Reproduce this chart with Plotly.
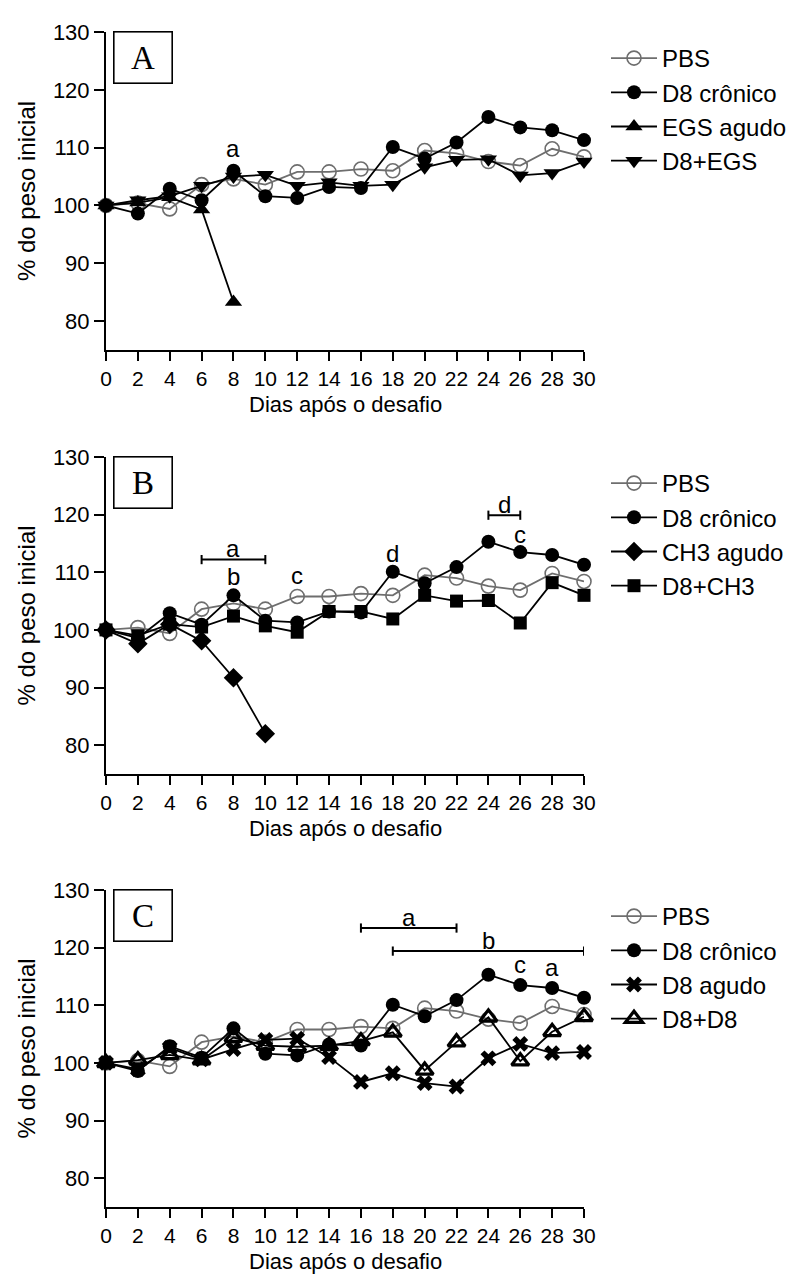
import plotly.graph_objects as go

W, H = 797, 1274
SANS = "Liberation Sans, Arial, sans-serif"
SERIF = "Liberation Serif, Times New Roman, serif"

# ---------------- data ----------------
days = [0, 2, 4, 6, 8, 10, 12, 14, 16, 18, 20, 22, 24, 26, 28, 30]
x_ticks = days
y_ticks = [80, 90, 100, 110, 120, 130]

pbs = [100, 100.4, 99.4, 103.6, 104.6, 103.6, 105.8, 105.8, 106.3, 106.0,
       109.5, 109.0, 107.6, 106.9, 109.8, 108.4]
d8_cronico = [100, 98.6, 102.9, 100.9, 106.0, 101.6, 101.3, 103.2, 103.0, 110.1,
              108.1, 110.9, 115.3, 113.5, 113.0, 111.3]
egs_agudo_days = [0, 2, 4, 6, 8]
egs_agudo = [100, 100.5, 101.4, 99.3, 83.3]
d8_egs = [100, 100.9, 101.6, 103.4, 105.0, 105.3, 103.4, 104.0, 103.4, 103.6,
          106.6, 107.9, 108.0, 105.2, 105.6, 107.6]
ch3_agudo_days = [0, 2, 4, 6, 8, 10]
ch3_agudo = [100, 97.6, 101.0, 98.1, 91.7, 82.0]
d8_ch3 = [100, 99.0, 101.0, 100.5, 102.4, 100.7, 99.6, 103.2, 103.2, 101.9,
          106.0, 105.0, 105.1, 101.2, 108.2, 106.0]
d8_agudo = [100, 98.9, 102.6, 100.6, 102.4, 104.0, 104.2, 101.0, 96.7, 98.2,
            96.5, 95.9, 100.8, 103.3, 101.7, 101.9]
d8_d8 = [100, 100.5, 101.4, 100.5, 104.4, 103.0, 102.8, 103.0, 103.8, 105.3,
         98.7, 103.6, 107.9, 100.3, 105.4, 108.0]

panel_labels = ["A", "B", "C"]
x_title = "Dias após o desafio"
y_title = "% do peso inicial"

# significance letters: (panel, day, value, text)
letters = [
    (0, 8, 109.9, "a"),
    (1, 8, 109.3, "b"), (1, 12, 109.4, "c"), (1, 18, 113.3, "d"), (1, 26, 116.6, "c"),
    (2, 26, 117.0, "c"), (2, 28, 116.6, "a"),
]
# brackets: (panel, day_start, day_end, value, text)
brackets = [
    (1, 6, 10, 112.2, "a"),
    (1, 24, 26, 119.9, "d"),
    (2, 16, 22, 123.4, "a"),
    (2, 18, 30, 119.4, "b"),
]

# ---------------- styles ----------------
BLACK = "black"
GRAY = "#6e6e6e"
styles = {
    "PBS": dict(symbol="circle-open", color=GRAY, size=14, mlw=1.6, lc=GRAY),
    "D8 crônico": dict(symbol="circle", color=BLACK, size=14, mlw=0, lc=BLACK),
    "EGS agudo": dict(symbol="triangle-up", color=BLACK, size=15, mlw=0, lc=BLACK),
    "D8+EGS": dict(symbol="triangle-down", color=BLACK, size=15, mlw=0, lc=BLACK),
    "CH3 agudo": dict(symbol="diamond", color=BLACK, size=15, mlw=0, lc=BLACK),
    "D8+CH3": dict(symbol="square", color=BLACK, size=13, mlw=0, lc=BLACK),
    "D8 agudo": dict(symbol="x", color=BLACK, size=14, mlw=0, lc=BLACK),
    "D8+D8": dict(symbol="triangle-up-open", color=BLACK, size=15, mlw=3.2, lc=BLACK),
}

panels = [
    [("PBS", days, pbs), ("D8 crônico", days, d8_cronico),
     ("EGS agudo", egs_agudo_days, egs_agudo), ("D8+EGS", days, d8_egs)],
    [("PBS", days, pbs), ("D8 crônico", days, d8_cronico),
     ("CH3 agudo", ch3_agudo_days, ch3_agudo), ("D8+CH3", days, d8_ch3)],
    [("PBS", days, pbs), ("D8 crônico", days, d8_cronico),
     ("D8 agudo", days, d8_agudo), ("D8+D8", days, d8_d8)],
]

# pixel geometry (top, bottom) of each plot area
X_LEFT, X_RIGHT = 98, 576
panel_px = [(24, 342), (449, 766), (882, 1199)]
legend_top_px = [28, 453, 886]


def fx(px):
    return px / W


def fy(px):
    return 1 - px / H


fig = go.Figure()
layout = dict(
    width=W, height=H,
    margin=dict(l=0, r=0, t=0, b=0),
    plot_bgcolor="white", paper_bgcolor="white",
    font=dict(family=SANS, color="black", size=22),
    showlegend=True,
    annotations=[], shapes=[],
)

for i, series in enumerate(panels):
    sfx = "" if i == 0 else str(i + 1)
    xa, ya = "x" + sfx, "y" + sfx
    leg = "legend" if i == 0 else "legend" + str(i + 1)
    for name, xs, ys in series:
        st = styles[name]
        fig.add_trace(go.Scatter(
            x=xs, y=ys, name=name, mode="lines+markers",
            xaxis=xa, yaxis=ya, legend=leg, cliponaxis=False,
            line=dict(color=st["lc"], width=1.8),
            marker=dict(symbol=st["symbol"], size=st["size"], color=st["color"],
                        line=dict(color=st["color"], width=st["mlw"])),
        ))
    top, bot = panel_px[i]
    layout["xaxis" + sfx] = dict(
        domain=[fx(X_LEFT), fx(X_RIGHT)], anchor=ya, range=[0, 30],
        tickmode="array", tickvals=x_ticks, ticktext=[str(d) for d in x_ticks],
        ticks="outside", ticklen=9, tickwidth=2, tickcolor="black",
        showline=True, linecolor="black", linewidth=2, showgrid=False, zeroline=False,
        tickfont=dict(size=21, family=SANS), automargin=False,
    )
    layout["yaxis" + sfx] = dict(
        domain=[fy(bot), fy(top)], anchor=xa, range=[75, 130],
        tickmode="array", tickvals=y_ticks,
        ticks="outside", ticklen=10, tickwidth=2, tickcolor="black",
        showline=True, linecolor="black", linewidth=2, showgrid=False, zeroline=False,
        tickfont=dict(size=22, family=SANS), automargin=False,
        title=dict(text=y_title, font=dict(size=24, family=SANS), standoff=10),
    )
    layout[leg] = dict(
        x=fx(598), y=fy(legend_top_px[i]), xanchor="left", yanchor="top",
        font=dict(size=24, family=SANS, color="black"),
        bgcolor="rgba(0,0,0,0)", borderwidth=0, itemwidth=46,
        tracegroupgap=0, itemclick=False,
    )
    # x-axis title
    layout["annotations"].append(dict(
        text=x_title, xref="paper", yref="paper",
        x=fx((X_LEFT + X_RIGHT) / 2), y=fy(bot + 40), xanchor="center", yanchor="top",
        showarrow=False, font=dict(size=22, family=SANS, color="black"),
    ))
    # panel letter box
    layout["annotations"].append(dict(
        text=panel_labels[i], xref="paper", yref="paper",
        x=fx(105), y=fy(top - 1), xanchor="left", yanchor="top",
        showarrow=False, font=dict(family=SERIF, size=33, color="black"),
        width=57, height=50, bordercolor="black", borderwidth=1.6, borderpad=0,
        bgcolor="white",
    ))

for p, d, v, t in letters:
    sfx = "" if p == 0 else str(p + 1)
    layout["annotations"].append(dict(
        text=t, x=d, y=v, xref="x" + sfx, yref="y" + sfx, showarrow=False,
        font=dict(size=24, family=SANS, color="black"), yanchor="middle",
    ))

for p, d0, d1, v, t in brackets:
    sfx = "" if p == 0 else str(p + 1)
    xr, yr = "x" + sfx, "y" + sfx
    ln = dict(color="black", width=2)
    layout["shapes"].append(dict(type="line", xref=xr, yref=yr, x0=d0, x1=d1, y0=v, y1=v, line=ln))
    for d in (d0, d1):
        layout["shapes"].append(dict(type="line", xref=xr, yref=yr, x0=d, x1=d,
                                     y0=v - 0.8, y1=v + 0.8, line=ln))
    layout["annotations"].append(dict(
        text=t, x=(d0 + d1) / 2, y=v + 1.9, xref=xr, yref=yr, showarrow=False,
        font=dict(size=24, family=SANS, color="black"), yanchor="middle",
    ))

fig.update_layout(**layout)
fig.write_html("out.html")
